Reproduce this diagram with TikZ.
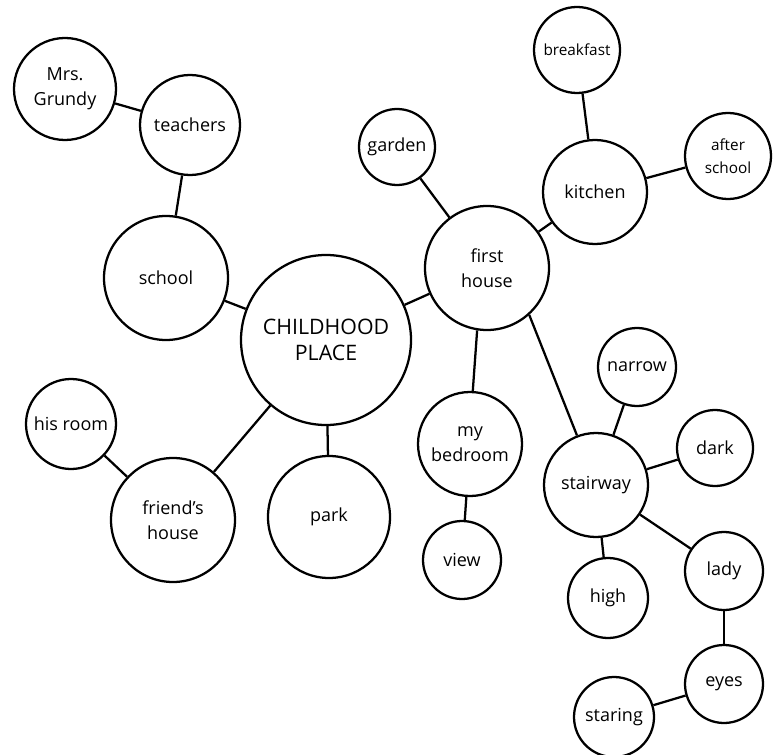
\documentclass[tikz,border=0pt]{standalone}
\usepackage{fontspec}
\setmainfont{Open Sans}
\begin{document}
\begin{tikzpicture}[x=0.75pt,y=-0.75pt,
  bub/.style={circle, draw, line width=1.7pt, inner sep=0pt, minimum size=#1*1.5pt,
    align=center, font=\fontsize{13.5}{18.5}\selectfont},
  smalltxt/.style={font=\fontsize{11.5}{17}\selectfont},
  link/.style={line width=1.7pt}]
\useasboundingbox (0,0) rectangle (780,755);
\node[bub=51] (grundy) at (65,89) {Mrs.\\Grundy};
\node[bub=50] (teachers) at (190,125) {teachers};
\node[bub=62] (school) at (166,278) {school};
\node[bub=85, font=\fontsize{16}{20}\selectfont] (child) at (326,340) {CHILDHOOD\\PLACE};
\node[bub=45] (hisroom) at (71,424) {his room};
\node[bub=62] (friend) at (173,520) {friend's\\house};
\node[bub=61] (park) at (329,517) {park};
\node[bub=38] (garden) at (397,147) {garden};
\node[bub=62] (first) at (487,268) {first\\house};
\node[bub=43, smalltxt] (breakfast) at (577,50) {breakfast};
\node[bub=52] (kitchen) at (595,192) {kitchen};
\node[bub=43, smalltxt] (after) at (728,156) {after\\school};
\node[bub=52] (bedroom) at (470,444) {my\\bedroom};
\node[bub=39] (view) at (462,560) {view};
\node[bub=52] (stairway) at (596,485) {stairway};
\node[bub=39] (narrow) at (637,367) {narrow};
\node[bub=38] (dark) at (715,448) {dark};
\node[bub=39] (lady) at (724,571) {lady};
\node[bub=40] (high) at (608,598) {high};
\node[bub=39] (eyes) at (724,684) {eyes};
\node[bub=40] (staring) at (614,717) {staring};
\draw[link] (grundy) -- (teachers);
\draw[link] (teachers) -- (school);
\draw[link] (school) -- (child);
\draw[link] (hisroom) -- (friend);
\draw[link] (friend) -- (child);
\draw[link] (park) -- (child);
\draw[link] (first) -- (child);
\draw[link] (garden) -- (first);
\draw[link] (kitchen) -- (first);
\draw[link] (breakfast) -- (kitchen);
\draw[link] (after) -- (kitchen);
\draw[link] (bedroom.87) -- (first.-99);
\draw[link] (view) -- (bedroom);
\draw[link] (stairway.111) -- (first.-48);
\draw[link] (narrow) -- (stairway);
\draw[link] (dark) -- (stairway);
\draw[link] (lady) -- (stairway);
\draw[link] (high) -- (stairway);
\draw[link] (eyes) -- (lady);
\draw[link] (staring) -- (eyes);
\end{tikzpicture}
\end{document}
